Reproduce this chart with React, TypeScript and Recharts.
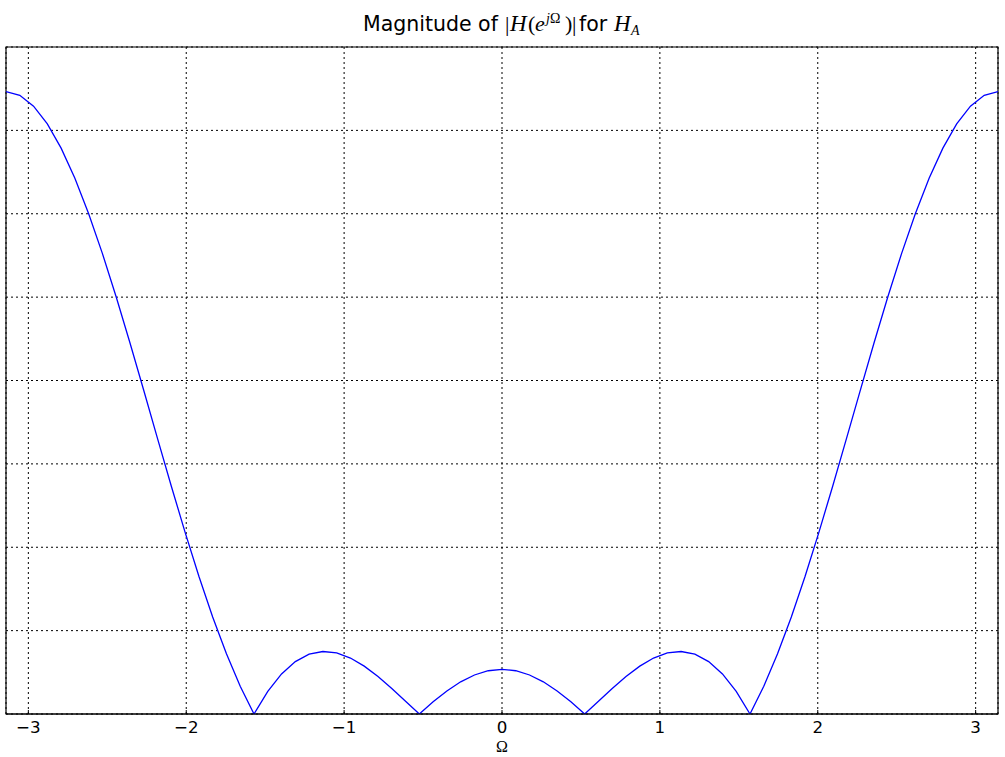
import { LineChart, Line, XAxis, YAxis, CartesianGrid, ReferenceArea } from "recharts";

// frequency samples (rad), every 5 degrees from -pi to pi
const omega = [
  -3.1416, -3.0543, -2.9671, -2.8798, -2.7925, -2.7053, -2.618, -2.5307, -2.4435, -2.3562,
  -2.2689, -2.1817, -2.0944, -2.0071, -1.9199, -1.8326, -1.7453, -1.6581, -1.5708, -1.4835,
  -1.3963, -1.309, -1.2217, -1.1345, -1.0472, -0.9599, -0.8727, -0.7854, -0.6981, -0.6109,
  -0.5236, -0.4363, -0.3491, -0.2618, -0.1745, -0.0873, 0, 0.0873, 0.1745, 0.2618,
  0.3491, 0.4363, 0.5236, 0.6109, 0.6981, 0.7854, 0.8727, 0.9599, 1.0472, 1.1345,
  1.2217, 1.309, 1.3963, 1.4835, 1.5708, 1.6581, 1.7453, 1.8326, 1.9199, 2.0071,
  2.0944, 2.1817, 2.2689, 2.3562, 2.4435, 2.5307, 2.618, 2.7053, 2.7925, 2.8798,
  2.9671, 3.0543, 3.1416,
];

// |H(e^jW)|
const magnitude = [
  7.4641, 7.4205, 7.2909, 7.0781, 6.7873, 6.4251, 6.0, 5.5217, 5.0009, 4.4495,
  3.8794, 3.3029, 2.7321, 2.1784, 1.6527, 1.1645, 0.7222, 0.3323, 0, 0.2715,
  0.4809, 0.6286, 0.7169, 0.7496, 0.7321, 0.671, 0.574, 0.4495, 0.3064, 0.1536,
  0, 0.146, 0.2769, 0.386, 0.4679, 0.5187, 0.5359, 0.5187, 0.4679, 0.386,
  0.2769, 0.146, 0, 0.1536, 0.3064, 0.4495, 0.574, 0.671, 0.7321, 0.7496,
  0.7169, 0.6286, 0.4809, 0.2715, 0, 0.3323, 0.7222, 1.1645, 1.6527, 2.1784,
  2.7321, 3.3029, 3.8794, 4.4495, 5.0009, 5.5217, 6.0, 6.4251, 6.7873, 7.0781,
  7.2909, 7.4205, 7.4641,
];

const xTicks = [-3, -2, -1, 0, 1, 2, 3];
const yTicks = [0, 1, 2, 3, 4, 5, 6, 7, 8];

const data = omega.map((w, i) => ({ w, mag: magnitude[i] }));

const TICK_FONT = "DejaVu Sans";
const MATH_FONT = "Liberation Serif";

const fmt = (v: number) => (v < 0 ? `\u2212${Math.abs(v)}` : `${v}`);

const BottomTick = ({ x, y, payload }: any) => (
  <g>
    <line x1={x} x2={x} y1={y} y2={y - 4} stroke="#000" />
    <text x={x} y={y + 18.5} textAnchor="middle" fontSize={16.7} fontFamily={TICK_FONT} fill="#000">
      {fmt(payload.value)}
    </text>
  </g>
);

const TopTick = ({ x, y }: any) => <line x1={x} x2={x} y1={y} y2={y + 4} stroke="#000" />;
const LeftTick = ({ x, y }: any) => <line x1={x} x2={x + 4} y1={y} y2={y} stroke="#000" />;
const RightTick = ({ x, y }: any) => <line x1={x} x2={x - 4} y1={y} y2={y} stroke="#000" />;

export default function App() {
  const xDomain = [omega[0], omega[omega.length - 1]];
  return (
    <div style={{ position: "absolute", left: 0, top: 0, width: 1005, height: 757, background: "#fff" }}>
      <LineChart
        width={1005}
        height={757}
        data={data}
        margin={{ top: 47, right: 7, bottom: 13, left: 6 }}
      >
        <CartesianGrid stroke="#000" strokeDasharray="2 3" strokeWidth={1} />
        <XAxis
          dataKey="w"
          type="number"
          domain={xDomain}
          ticks={xTicks}
          allowDataOverflow
          height={30}
          tickSize={0}
          tickMargin={0}
          tickLine={false}
          axisLine={{ stroke: "#000" }}
          tick={<BottomTick />}
          interval={0}
        />
        <XAxis
          xAxisId="top"
          orientation="top"
          type="number"
          domain={xDomain}
          ticks={xTicks}
          allowDataOverflow
          height={0}
          tickSize={0}
          tickMargin={0}
          tickLine={false}
          axisLine={{ stroke: "#000" }}
          tick={<TopTick />}
          interval={0}
        />
        <YAxis
          type="number"
          domain={[0, 8]}
          ticks={yTicks}
          allowDataOverflow
          width={0}
          tickSize={0}
          tickMargin={0}
          tickLine={false}
          axisLine={{ stroke: "#000" }}
          tick={<LeftTick />}
          interval={0}
        />
        <YAxis
          yAxisId="right"
          orientation="right"
          type="number"
          domain={[0, 8]}
          ticks={yTicks}
          allowDataOverflow
          width={0}
          tickSize={0}
          tickMargin={0}
          tickLine={false}
          axisLine={{ stroke: "#000" }}
          tick={<RightTick />}
          interval={0}
        />
        <ReferenceArea
          x1={xDomain[0]}
          x2={xDomain[1]}
          y1={0}
          y2={8}
          fill="none"
          fillOpacity={0}
          stroke="#000"
          strokeWidth={1.2}
          strokeOpacity={1}
          ifOverflow="visible"
        />
        <Line
          type="linear"
          dataKey="mag"
          stroke="#0000ff"
          strokeWidth={1.3}
          dot={false}
          isAnimationActive={false}
        />
      </LineChart>
      <svg
        width={1005}
        height={757}
        style={{ position: "absolute", left: 0, top: 0, pointerEvents: "none" }}
      >
        <text y={31} fontSize={20.5} fontFamily={TICK_FONT} fill="#000">
          <tspan x={363}>Magnitude of</tspan>
          <tspan x={505} fontFamily={MATH_FONT} fontSize={22}>|</tspan>
          <tspan x={510} fontFamily={MATH_FONT} fontSize={23} fontStyle="italic">H</tspan>
          <tspan x={528} fontFamily={MATH_FONT} fontSize={22}>(</tspan>
          <tspan x={535} fontFamily={MATH_FONT} fontSize={22} fontStyle="italic">e</tspan>
          <tspan x={546} dy={-8} fontFamily={MATH_FONT} fontSize={14} fontStyle="italic">j</tspan>
          <tspan fontFamily={MATH_FONT} fontSize={14}>Ω</tspan>
          <tspan x={565} dy={8} fontFamily={MATH_FONT} fontSize={22}>)</tspan>
          <tspan x={572} fontFamily={MATH_FONT} fontSize={22}>|</tspan>
          <tspan x={579}>for</tspan>
          <tspan x={614} fontFamily={MATH_FONT} fontSize={23} fontStyle="italic">H</tspan>
          <tspan x={631} dy={4} fontFamily={MATH_FONT} fontSize={14} fontStyle="italic">A</tspan>
        </text>
        <text x={502} y={751.5} textAnchor="middle" fontSize={16} fontFamily={MATH_FONT} fill="#000">
          Ω
        </text>
      </svg>
    </div>
  );
}
